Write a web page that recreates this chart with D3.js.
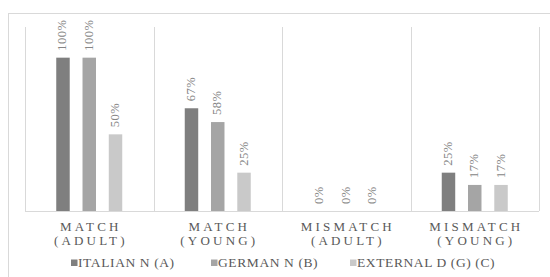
<!DOCTYPE html>
<html><head><meta charset="utf-8">
<script src="https://cdn.jsdelivr.net/npm/d3@7"></script>
<style>body{margin:0;background:#fff;}svg{display:block;}</style>
</head><body>
<svg id="c" width="550" height="277"></svg>
<script>
const categories = [["MATCH","(ADULT)"],["MATCH","(YOUNG)"],["MISMATCH","(ADULT)"],["MISMATCH","(YOUNG)"]];
const seriesNames = ["ITALIAN N (A)","GERMAN N (B)","EXTERNAL D (G) (C)"];
const italian = [1.00, 0.67, 0.00, 0.25];
const german = [1.00, 0.58, 0.00, 0.17];
const external = [0.50, 0.25, 0.00, 0.17];
const labelsText = [["100%","67%","0%","25%"],["100%","58%","0%","17%"],["50%","25%","0%","17%"]];
const colors = ["#7f7f7f","#a5a5a5","#c9c9c9"];
const seriesValues = [italian, german, external];

const svg = d3.select("#c");
const font = "'Liberation Serif','Times New Roman',serif";

svg.append("rect").attr("x",8.5).attr("y",13.5).attr("width",560).attr("height",290)
  .attr("fill","#fff").attr("stroke","#d9d9d9").attr("stroke-width",1);

const catIdx = categories.map((d,i)=>i);
const x0 = d3.scaleBand().domain(catIdx).range([25,539]).padding(0);
const x1 = d3.scaleBand().domain([0,1,2]).range([-33,33]).paddingInner(0.487).paddingOuter(0);
const y = d3.scaleLinear().domain([0,1.2]).range([211,27]);

// separators
const seps = x0.domain().map(i=>x0(i)).concat([x0.range()[1]]);
svg.selectAll("line.sep").data(seps).enter().append("line")
  .attr("x1",d=>Math.round(d)+0.5).attr("x2",d=>Math.round(d)+0.5)
  .attr("y1",y(1.2)).attr("y2",y(0))
  .attr("stroke","#d9d9d9").attr("stroke-width",1);
svg.append("line").attr("x1",25).attr("x2",539).attr("y1",y(0)+0.5).attr("y2",y(0)+0.5)
  .attr("stroke","#d9d9d9");

seriesValues.forEach((vals,s)=>{
  const g = svg.append("g");
  g.selectAll("rect").data(vals).enter().append("rect")
    .attr("x",(d,i)=>x0(i)+x0.bandwidth()/2+x1(s))
    .attr("width",x1.bandwidth())
    .attr("y",d=>y(d)).attr("height",d=>y(0)-y(d))
    .attr("fill",colors[s]);
  g.selectAll("text").data(vals).enter().append("text")
    .attr("transform",(d,i)=>{
      const cx = x0(i)+x0.bandwidth()/2+x1(s)+x1.bandwidth()/2;
      return `translate(${cx+3.5},${y(d)-7}) rotate(-90)`;
    })
    .attr("font-family",font).attr("font-size",12.5).attr("letter-spacing",0.5)
    .attr("fill","#858585")
    .text((d,i)=>labelsText[s][i]);
});

// category labels
const cl = svg.append("g");
categories.forEach((c,i)=>{
  const cx = x0(i)+x0.bandwidth()/2;
  c.forEach((t,k)=>{
    cl.append("text").attr("x",cx+1.6).attr("y",231+k*13.5)
      .attr("text-anchor","middle").attr("font-family",font).attr("font-size",13)
      .attr("letter-spacing",3.2).attr("fill","#595959").text(t);
  });
});

// legend
const legX = [71,211,350];
seriesNames.forEach((n,s)=>{
  svg.append("rect").attr("x",legX[s]).attr("y",259.5).attr("width",6.5).attr("height",6.5).attr("fill",colors[s]);
  svg.append("text").attr("x",legX[s]+7).attr("y",267).attr("font-family",font).attr("font-size",13.5)
    .attr("letter-spacing",0.6).attr("fill","#595959").text(n);
});
</script>
</body></html>
